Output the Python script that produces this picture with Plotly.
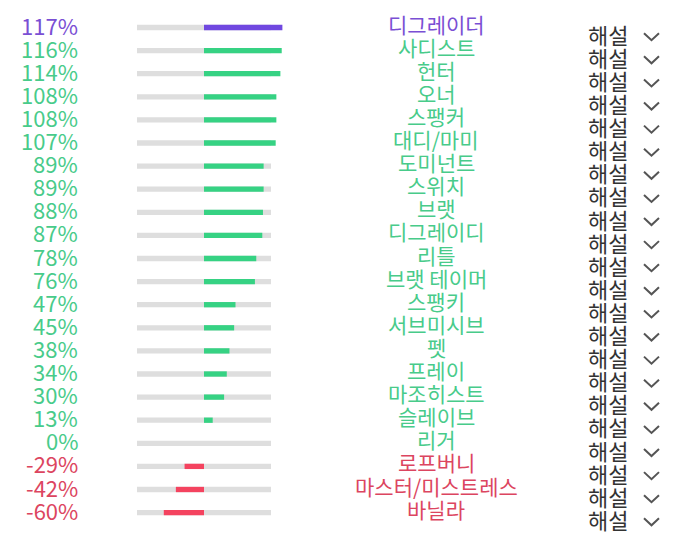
import plotly.graph_objects as go

names = ["디그레이더", "사디스트", "헌터", "오너", "스팽커", "대디/마미", "도미넌트", "스위치",
         "브랫", "디그레이디", "리틀", "브랫 테이머", "스팽키", "서브미시브", "펫", "프레이",
         "마조히스트", "슬레이브", "리거", "로프버니", "마스터/미스트레스", "바닐라"]
values = [117, 116, 114, 108, 108, 107, 89, 89, 88, 87, 78, 76, 47, 45, 38, 34, 30, 13, 0, -29, -42, -60]
button_label = "해설"

PURPLE_BAR, GREEN_BAR, RED_BAR = "#7048E0", "#36D283", "#F4435F"
PURPLE_TXT, GREEN_TXT, RED_TXT = "#7A4FD4", "#48CB8A", "#DC4560"
TRACK = "#DEDEDE"

n = len(values)
ys = list(range(n))

def bar_color(i, v):
    if i == 0:
        return PURPLE_BAR
    return GREEN_BAR if v >= 0 else RED_BAR

def txt_color(i, v):
    if i == 0:
        return PURPLE_TXT
    return GREEN_TXT if v >= 0 else RED_TXT

fig = go.Figure()
fig.add_trace(go.Bar(
    y=ys, x=[200] * n, base=[-100] * n, orientation="h",
    marker=dict(color=TRACK, line=dict(width=0)), width=0.23,
    hoverinfo="skip", showlegend=False))
fig.add_trace(go.Bar(
    y=ys, x=values, base=[0] * n, orientation="h",
    marker=dict(color=[bar_color(i, v) for i, v in enumerate(values)], line=dict(width=0)),
    width=0.23, showlegend=False))

W, H = 680, 536
x0_px, px_per = 204, 0.67
row0_px, row_px = 27.5, 23.1
xr = [-x0_px / px_per, (W - x0_px) / px_per]
yr = [(H - row0_px) / row_px, -row0_px / row_px]

annotations = []
shapes = []
font_fam = "Noto Sans CJK KR, Noto Sans, sans-serif"
for i, (nm, v) in enumerate(zip(names, values)):
    c = txt_color(i, v)
    annotations.append(dict(xref="paper", yref="y", x=80 / W, y=i - 0.13, text=f"{v}%",
                            showarrow=False, xanchor="right", yanchor="middle",
                            font=dict(size=22, color=c, family=font_fam)))
    annotations.append(dict(xref="paper", yref="y", x=436 / W, y=i - 0.17, text=nm,
                            showarrow=False, xanchor="center", yanchor="middle",
                            font=dict(size=21, color=c, family=font_fam)))
    annotations.append(dict(xref="paper", yref="y", x=586 / W, y=i + 0.27, text=button_label,
                            showarrow=False, xanchor="left", yanchor="middle",
                            font=dict(size=22, color="#333333", family=font_fam)))
    yc = i + 0.4
    dy = 3.5 / row_px
    shapes.append(dict(type="path", xref="paper", yref="y",
                       path=f"M {644/W},{yc-dy} L {651.5/W},{yc+dy} L {659/W},{yc-dy}",
                       line=dict(color="#555555", width=2)))

fig.update_layout(
    width=W, height=H, margin=dict(l=0, r=0, t=0, b=0),
    paper_bgcolor="white", plot_bgcolor="white",
    barmode="overlay",
    xaxis=dict(range=xr, visible=False, fixedrange=True),
    yaxis=dict(range=yr, visible=False, fixedrange=True),
    annotations=annotations, shapes=shapes,
    font=dict(family=font_fam),
)
fig.write_html("out.html")
